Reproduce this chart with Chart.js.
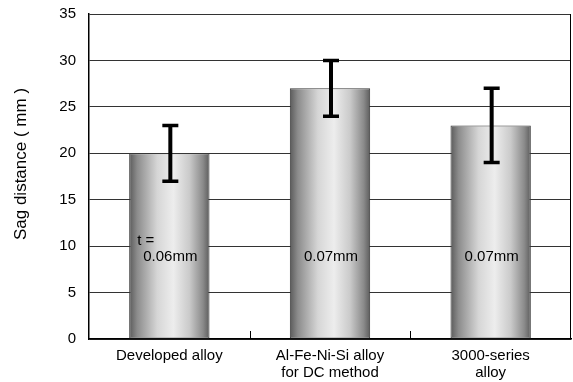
<!DOCTYPE html>
<html>
<head>
<meta charset="utf-8">
<script src="https://cdn.jsdelivr.net/npm/chart.js@4/dist/chart.umd.min.js"></script>
<style>
  html, body { margin: 0; padding: 0; background: #fff; }
  #wrap { width: 573px; height: 382px; position: relative; }
</style>
</head>
<body>
<div id="wrap"><canvas id="c"></canvas></div>
<script>
// ---- data ----
const categories = [["Developed alloy"], ["Al-Fe-Ni-Si alloy", "for DC method"], ["3000-series", "alloy"]];
const sagValues = [20, 27, 23];
const errLow = [17, 24, 19];
const errHigh = [23, 30, 27];
const barNotes = [["t =", "0.06mm"], ["0.07mm"], ["0.07mm"]];
const yTitle = "Sag distance ( mm )";
const yMin = 0, yMax = 35, yStep = 5;

const FONT = "'Liberation Sans', Arial, sans-serif";

function barGradient(context) {
  const chart = context.chart;
  const xs = chart.scales.x;
  if (!xs || context.dataIndex === undefined) return '#bbb';
  const cx = xs.getPixelForValue(context.dataIndex);
  const half = xs.width / categories.length * 0.5 / 2;
  if (!isFinite(cx) || !isFinite(half) || half <= 0) return '#bbb';
  const g = chart.ctx.createLinearGradient(cx - half, 0, cx + half, 0);
  g.addColorStop(0, '#5a5a5a');
  g.addColorStop(0.1, '#8c8c8c');
  g.addColorStop(0.35, '#d6d6d6');
  g.addColorStop(0.55, '#ededed');
  g.addColorStop(0.75, '#cacaca');
  g.addColorStop(0.92, '#8a8a8a');
  g.addColorStop(1, '#5c5c5c');
  return g;
}

const decor = {
  id: 'decor',
  afterDatasetsDraw(chart) {
    const ctx = chart.ctx;
    const xs = chart.scales.x, ys = chart.scales.y;
    const area = chart.chartArea;
    const meta = chart.getDatasetMeta(0);
    ctx.save();
    // notes inside bars
    ctx.fillStyle = '#000';
    ctx.font = '15px ' + FONT;
    ctx.textBaseline = 'middle';
    meta.data.forEach((bar, i) => {
      const lines = barNotes[i];
      const left = bar.x - bar.width / 2;
      if (lines.length > 1) {
        ctx.textAlign = 'left';
        ctx.fillText(lines[0], left + 8, ys.getPixelForValue(10.6));
        ctx.textAlign = 'center';
        ctx.fillText(lines[1], bar.x + 1, ys.getPixelForValue(8.8));
      } else {
        ctx.textAlign = 'center';
        ctx.fillText(lines[0], bar.x + 1, ys.getPixelForValue(8.8));
      }
    });
    // error bars
    ctx.strokeStyle = '#000';
    meta.data.forEach((bar, i) => {
      const x = bar.x + 1;
      const yh = ys.getPixelForValue(errHigh[i]);
      const yl = ys.getPixelForValue(errLow[i]);
      ctx.lineWidth = 4;
      ctx.beginPath();
      ctx.moveTo(x, yh); ctx.lineTo(x, yl);
      ctx.stroke();
      ctx.lineWidth = 3.5;
      ctx.beginPath();
      ctx.moveTo(x - 8, yh); ctx.lineTo(x + 8, yh);
      ctx.moveTo(x - 8, yl); ctx.lineTo(x + 8, yl);
      ctx.stroke();
    });
    // category separator ticks
    ctx.lineWidth = 1;
    ctx.strokeStyle = '#000';
    for (let i = 0; i < categories.length - 1; i++) {
      const x = Math.round((xs.getPixelForValue(i) + xs.getPixelForValue(i + 1)) / 2) + 0.5;
      ctx.beginPath();
      ctx.moveTo(x, area.bottom); ctx.lineTo(x, area.bottom - 8);
      ctx.stroke();
    }
    // right border
    ctx.beginPath();
    ctx.moveTo(Math.round(area.right) - 0.5, area.top);
    ctx.lineTo(Math.round(area.right) - 0.5, area.bottom);
    ctx.stroke();
    // y title
    ctx.translate(21, 164);
    ctx.rotate(-Math.PI / 2);
    ctx.textAlign = 'center';
    ctx.textBaseline = 'middle';
    ctx.font = '17px ' + FONT;
    ctx.fillText(yTitle, 0, 0);
    ctx.restore();
  }
};

new Chart(document.getElementById('c'), {
  type: 'bar',
  data: {
    labels: categories,
    datasets: [{
      data: sagValues,
      backgroundColor: barGradient,
      borderColor: '#3a3a3a',
      borderWidth: 1,
      borderSkipped: false,
      barPercentage: 1,
      categoryPercentage: 0.5
    }]
  },
  options: {
    responsive: true,
    maintainAspectRatio: false,
    animation: false,
    layout: { padding: { top: 14, right: 2, left: 0, bottom: 0 } },
    plugins: { legend: { display: false }, tooltip: { enabled: false } },
    scales: {
      x: {
        grid: { display: false, drawTicks: false },
        border: { display: true, color: '#000', width: 1.5 },
        ticks: { color: '#000', font: { family: FONT, size: 15, lineHeight: 1.1 }, padding: 9, maxRotation: 0, autoSkip: false },
        afterFit(s) { s.height = 43; }
      },
      y: {
        min: yMin, max: yMax,
        ticks: { stepSize: yStep, color: '#000', font: { family: FONT, size: 15 }, padding: 13 },
        grid: { color: '#333', lineWidth: 1, drawTicks: false },
        border: { display: true, color: '#000', width: 1.5 },
        afterFit(s) { s.width = 89; s.paddingTop = 0; s.paddingBottom = 0; }
      }
    }
  },
  plugins: [decor]
});
</script>
</body>
</html>
